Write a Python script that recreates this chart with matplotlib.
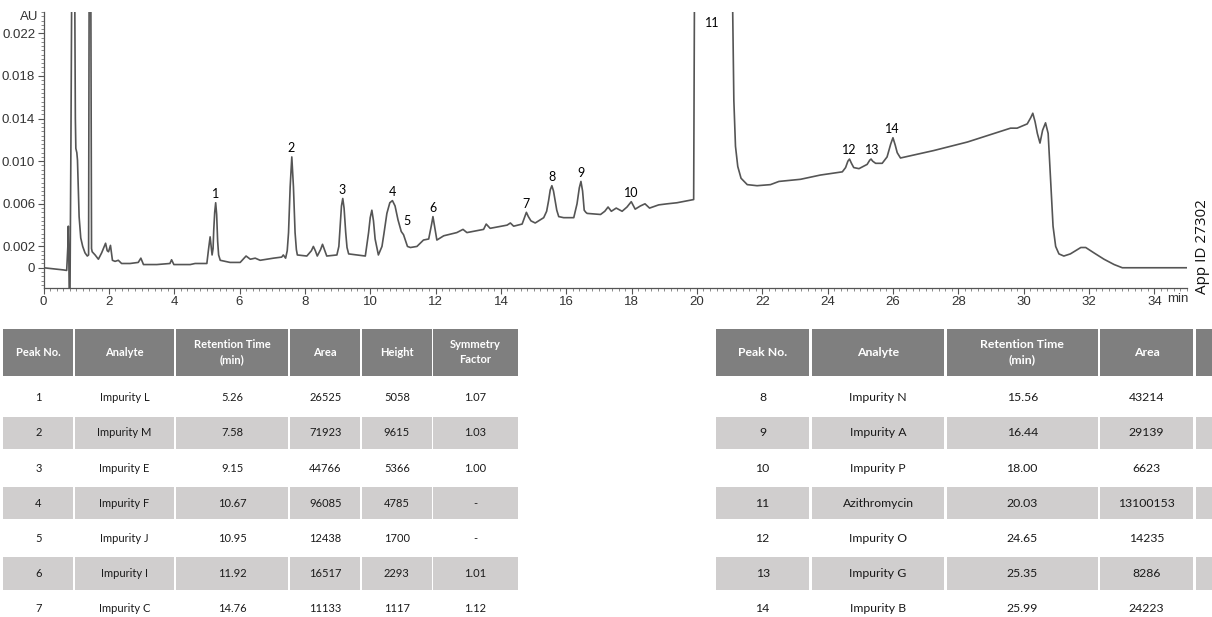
import numpy as np
import matplotlib
matplotlib.use("Agg")
import matplotlib.pyplot as plt
from matplotlib.ticker import MultipleLocator, FixedLocator, FuncFormatter
from matplotlib.patches import Rectangle

# chromatogram trace (time in min, absorbance in AU)
trace_t = [0.00, 0.30, 0.60, 0.71, 0.745, 0.76, 0.775, 0.79, 0.81, 0.84, 0.87, 0.95,
           0.975, 0.99, 1.02, 1.04, 1.07, 1.09, 1.14, 1.20, 1.27, 1.34, 1.38, 1.40,
           1.445, 1.47, 1.49, 1.58, 1.68, 1.78, 1.90, 1.95, 1.99, 2.05, 2.11, 2.19,
           2.29, 2.39, 2.65, 2.90, 2.98, 3.06, 3.47, 3.87, 3.92, 3.99, 4.49, 4.64,
           5.00, 5.05, 5.10, 5.16, 5.19, 5.21, 5.24, 5.27, 5.30, 5.33, 5.36, 5.41,
           5.71, 6.02, 6.20, 6.33, 6.48, 6.63, 7.04, 7.29, 7.34, 7.41, 7.46, 7.50,
           7.55, 7.60, 7.65, 7.70, 7.74, 7.77, 8.06, 8.20, 8.26, 8.32, 8.38, 8.48,
           8.54, 8.60, 8.67, 8.98, 9.04, 9.08, 9.12, 9.16, 9.20, 9.25, 9.29, 9.34,
           9.85, 9.95, 10.00, 10.05, 10.10, 10.15, 10.25, 10.36, 10.42, 10.51, 10.60,
           10.68, 10.76, 10.85, 10.95, 11.02, 11.14, 11.23, 11.43, 11.63, 11.79, 11.88,
           11.92, 11.97, 12.04, 12.25, 12.65, 12.84, 12.96, 13.47, 13.55, 13.67, 14.19,
           14.29, 14.39, 14.65, 14.72, 14.78, 14.84, 14.92, 15.05, 15.31, 15.40, 15.46,
           15.51, 15.56, 15.61, 15.66, 15.71, 15.77, 15.92, 16.23, 16.33, 16.40, 16.45,
           16.50, 16.55, 16.60, 16.64, 17.05, 17.18, 17.28, 17.38, 17.53, 17.71, 17.86,
           17.99, 18.11, 18.27, 18.41, 18.55, 18.83, 19.09, 19.39, 19.90, 19.93, 21.07,
           21.13, 21.18, 21.25, 21.35, 21.54, 21.84, 22.25, 22.51, 23.17, 23.78, 24.45,
           24.55, 24.62, 24.67, 24.73, 24.80, 24.96, 25.21, 25.29, 25.33, 25.38, 25.47,
           25.67, 25.82, 25.93, 26.00, 26.07, 26.13, 26.23, 27.25, 28.28, 29.30, 29.60,
           29.80, 30.11, 30.22, 30.28, 30.35, 30.42, 30.50, 30.58, 30.67, 30.75, 30.83,
           30.90, 30.98, 31.08, 31.23, 31.43, 31.75, 31.90, 32.15, 32.46, 32.77, 33.02,
           33.38, 35.00]
trace_au = [0.0000, -0.0001, -0.0002, -0.00025, 0.0020, 0.0039, 0.0010, -0.0030, -0.0030, 0.0120, 0.0300, 0.0300,
            0.0140, 0.0112, 0.0108, 0.0101, 0.0070, 0.0048, 0.0028, 0.0020, 0.0014, 0.0011, 0.0012, 0.0300,
            0.0300, 0.0018, 0.0015, 0.0012, 0.0008, 0.0014, 0.0023, 0.0016, 0.0015, 0.0021, 0.0007, 0.0006,
            0.0007, 0.0004, 0.0004, 0.0005, 0.0009, 0.0003, 0.0003, 0.0004, 0.00075, 0.0003, 0.0003, 0.0004,
            0.0004, 0.0017, 0.0029, 0.0012, 0.0018, 0.0035, 0.0052, 0.0061, 0.0050, 0.0025, 0.0012, 0.0007,
            0.0005, 0.0005, 0.0011, 0.0008, 0.0009, 0.0007, 0.0009, 0.0010, 0.0012, 0.0009, 0.0016, 0.0033,
            0.0076, 0.0104, 0.0076, 0.0033, 0.0017, 0.0012, 0.0011, 0.0016, 0.0020, 0.0016, 0.0011, 0.0017,
            0.0022, 0.0017, 0.0011, 0.0012, 0.0020, 0.0039, 0.0058, 0.0065, 0.0056, 0.0033, 0.0019, 0.0013,
            0.0011, 0.0033, 0.0047, 0.0054, 0.0044, 0.0027, 0.0012, 0.0020, 0.0032, 0.0051, 0.0061,
            0.0063, 0.0058, 0.0045, 0.0034, 0.0031, 0.0020, 0.0019, 0.0020, 0.0026, 0.0027, 0.0041,
            0.0048, 0.0039, 0.0026, 0.0030, 0.0033, 0.0036, 0.0033, 0.0036, 0.0041, 0.0037, 0.0040,
            0.0042, 0.0039, 0.0041, 0.0047, 0.0052, 0.0048, 0.0044, 0.0042, 0.0047, 0.0053, 0.0063,
            0.0073, 0.0077, 0.0072, 0.0063, 0.0054, 0.0048, 0.0047, 0.0047, 0.0060, 0.0075, 0.0081,
            0.0072, 0.0054, 0.0052, 0.0051, 0.0050, 0.0053, 0.0057, 0.0053, 0.0056, 0.0053, 0.0057,
            0.0062, 0.0055, 0.0058, 0.0060, 0.0056, 0.0059, 0.0060, 0.0061, 0.0064, 0.0300, 0.0300,
            0.0157, 0.0114, 0.0095, 0.0084, 0.0078, 0.0077, 0.0078, 0.0081, 0.0083, 0.0087, 0.0090,
            0.0094, 0.0100, 0.0102, 0.0098, 0.0094, 0.0093, 0.0097, 0.0101, 0.0102, 0.0100, 0.0098,
            0.0098, 0.0104, 0.0116, 0.0122, 0.0115, 0.0108, 0.0103, 0.0110, 0.0118, 0.0128, 0.0131,
            0.0131, 0.0135, 0.0141, 0.0145, 0.0137, 0.0126, 0.0117, 0.0129, 0.0136, 0.0126, 0.0079,
            0.0039, 0.0020, 0.0013, 0.0011, 0.0013, 0.0019, 0.0019, 0.0014, 0.0008, 0.0003, 0.0000,
            0.0000, 0.0000]

# peak table
peak_no = list(range(1, 15))
analyte = ["Impurity L", "Impurity M", "Impurity E", "Impurity F", "Impurity J", "Impurity I",
           "Impurity C", "Impurity N", "Impurity A", "Impurity P", "Azithromycin", "Impurity O",
           "Impurity G", "Impurity B"]
ret_time = [5.26, 7.58, 9.15, 10.67, 10.95, 11.92, 14.76, 15.56, 16.44, 18.00, 20.03, 24.65, 25.35, 25.99]
area = [26525, 71923, 44766, 96085, 12438, 16517, 11133, 43214, 29139, 6623, 13100153, 14235, 8286, 24223]
height = ["5058", "9615", "5366", "4785", "1700", "2293", "1117"]
symmetry = ["1.07", "1.03", "1.00", "-", "-", "1.01", "1.12"]

headers = ["Peak No.", "Analyte", "Retention Time\n(min)", "Area", "Height", "Symmetry\nFactor"]

fig = plt.figure(figsize=(12.12, 6.17), dpi=100)

# ---------- tables (drawn in pixel space) ----------
tab = fig.add_axes([0, 0, 1, 1])
tab.set_xlim(0, 1212)
tab.set_ylim(617, 0)
tab.axis("off")

hdr_top, hdr_bot = 329, 375.5
row0, pitch, half = 397.7, 35.15, 16.2
hdr_col = "#7f7f7f"
band_col = "#d0cece"
txt_col = "#1a1a1a"


def draw_table(edges, rows, fs, ncols_text):
    for j, (x0, x1) in enumerate(edges):
        tab.add_patch(Rectangle((x0, hdr_top), x1 - x0, hdr_bot - hdr_top, color=hdr_col, lw=0))
        if j < ncols_text:
            tab.text((x0 + x1) / 2, (hdr_top + hdr_bot) / 2, headers[j], ha="center", va="center",
                     color="white", fontsize=fs, fontweight="bold", family="Lato", linespacing=1.4)
        for i, row in enumerate(rows):
            yc = row0 + i * pitch
            if i % 2 == 1:
                tab.add_patch(Rectangle((x0, yc - half), x1 - x0, 2 * half, color=band_col, lw=0))
            if j < ncols_text:
                tab.text((x0 + x1) / 2, yc, row[j], ha="center", va="center", color=txt_col,
                         fontsize=fs, family="Lato")


left_edges = [(3.3, 73.3), (75.3, 173.7), (175.7, 288.3), (290.3, 360), (362, 431.7), (433.3, 517.7)]
left_rows = [[str(peak_no[i]), analyte[i], f"{ret_time[i]:.2f}", str(area[i]), height[i], symmetry[i]]
             for i in range(7)]
draw_table(left_edges, left_rows, 8, 6)

right_edges = [(716, 809.3), (812.3, 944), (946.7, 1097.7), (1100, 1193.3), (1196.3, 1290)]
right_rows = [[str(peak_no[i]), analyte[i], f"{ret_time[i]:.2f}", str(area[i])] for i in range(7, 14)]
draw_table(right_edges, right_rows, 8.8, 4)

# ---------- chromatogram ----------
ax = fig.add_axes([43.5 / 1212, 1 - 288 / 617, (1187 - 43.5) / 1212, (288 - 12) / 617])
ax.plot(trace_t, trace_au, color="#555555", lw=1.2, solid_joinstyle="round")
ax.set_xlim(0, 35)
ax.set_ylim(-0.0019, 0.0240)

for s in ["top", "right"]:
    ax.spines[s].set_visible(False)
for s in ["left", "bottom"]:
    ax.spines[s].set_color("#555555")
    ax.spines[s].set_linewidth(0.9)

ax.xaxis.set_major_locator(MultipleLocator(2))
ax.xaxis.set_minor_locator(MultipleLocator(0.2))
ax.yaxis.set_major_locator(FixedLocator([0, 0.002, 0.006, 0.010, 0.014, 0.018, 0.022]))
ax.yaxis.set_minor_locator(MultipleLocator(0.0004))
ax.yaxis.set_major_formatter(FuncFormatter(lambda v, p: "0" if abs(v) < 1e-9 else f"{v:.3f}"))
ax.tick_params(which="major", length=4, width=0.8, color="#555555", labelsize=9.5,
               labelcolor="#333333", pad=2)
ax.tick_params(which="minor", length=2, width=0.6, color="#777777")
for lab in ax.get_xticklabels() + ax.get_yticklabels():
    lab.set_family("Liberation Sans")

ax.text(-0.15, 0.0235, "AU", ha="right", va="center", fontsize=9.5, color="#333333",
        family="Liberation Sans", clip_on=False)
ax.text(34.72, -0.00235, "min", ha="center", va="top", fontsize=9.5, color="#333333",
        family="Liberation Sans", clip_on=False)

# peak numbers above each peak
tt = np.linspace(0, 35, 7001)
yy = np.interp(tt, trace_t, trace_au)
for n, rt in zip(peak_no, ret_time):
    if n == 11:
        ax.text(20.48, 0.0230, "11", ha="center", va="center", fontsize=9, family="Lato")
        continue
    m = (tt > rt - 0.07) & (tt < rt + 0.07)
    top = yy[m].max()
    dx, dy = (4, -3) if n == 5 else (0, 2)
    ax.annotate(str(n), (rt, top), xytext=(dx, dy), textcoords="offset points",
                ha="center", va="bottom", fontsize=9, family="Lato")

fig.text(1202 / 1212, 1 - 247 / 617, "App ID 27302", rotation=90, ha="center", va="center",
         fontsize=11, family="Open Sans", color="#111111")

fig.savefig("out.png", dpi=100)
